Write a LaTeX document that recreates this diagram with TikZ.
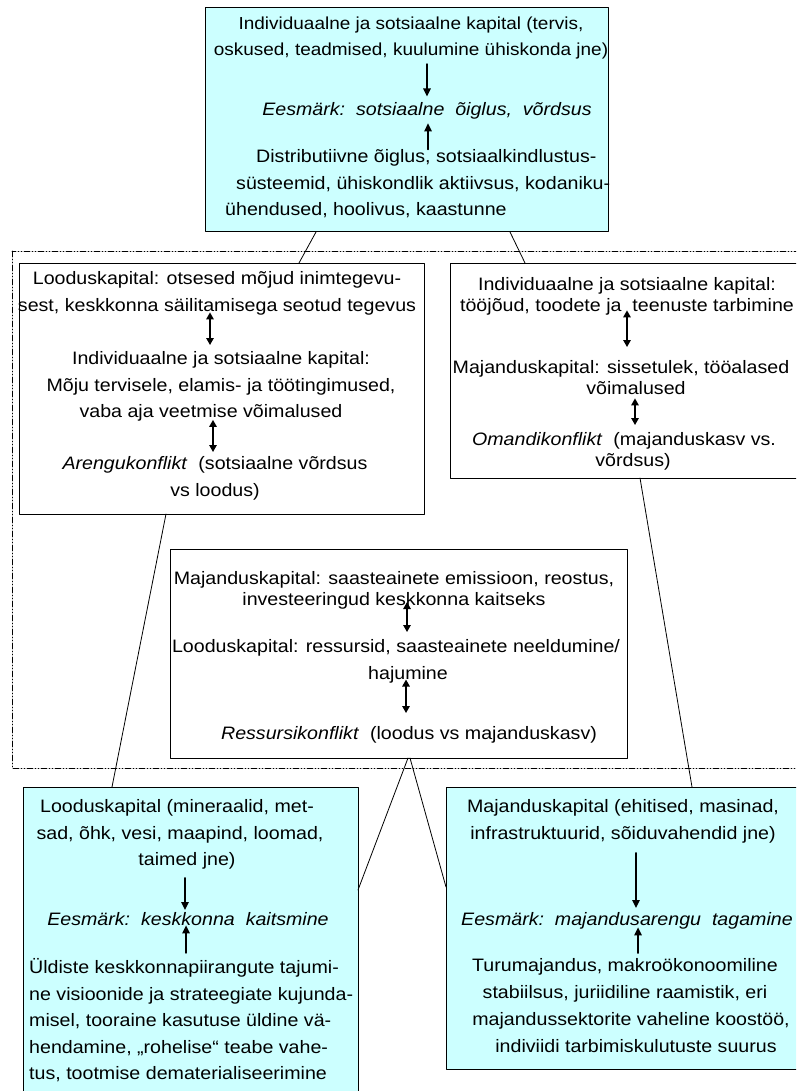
\documentclass[tikz,border=0pt]{standalone}
\usepackage{fontspec}
\setmainfont{Liberation Sans}[FakeStretch=1.09]
\usepackage{xcolor}
\usetikzlibrary{arrows.meta}

\begin{document}
\begin{tikzpicture}[line cap=round,line join=round,x=1pt,y=-1pt,
  box/.style={draw=black,line width=1pt,inner sep=0pt,outer sep=0pt},
  txt/.style={inner sep=0pt,anchor=north,align=center,font={\fontsize{18}{#1}\selectfont},
    execute at begin node=\strut,execute at end node=\strut},
  txt/.default=26.5,
  tip/.style={-{Triangle[length=8pt,width=7.5pt]},line width=1.4pt},
  dbl/.style={{Triangle[length=7pt,width=7.5pt]}-{Triangle[length=7pt,width=7.5pt]},line width=1.4pt},
  link/.style={line width=0.8pt}]
\definecolor{ccffff}{rgb}{0.8,1,1}
\useasboundingbox (0,0) rectangle (796,1091);
\clip (0,0) rectangle (796,1091);
\draw [line width=0.9pt,dash pattern=on 6pt off 2pt on 1pt off 2pt on 1pt off 2pt] (12,251) rectangle (806,768);
% boxes
\node[box,fill=ccffff,minimum width=403pt,minimum height=224pt] (soc) at (406.5,120) {};
\node[box,fill=white,minimum width=405pt,minimum height=251pt] (socnat) at (221.5,388.5) {};
\node[box,fill=white,minimum width=356pt,minimum height=215pt] (socecon) at (628,370.5) {};
\node[box,fill=white,minimum width=457pt,minimum height=209pt] (econnat) at (398.5,653.5) {};
\node[box,fill=ccffff,minimum width=335pt,minimum height=313pt] (nat) at (190.5,943.5) {};
\node[box,fill=ccffff,minimum width=360pt,minimum height=282pt] (econ) at (626,928) {};
% links
\draw[link] (soc.south -| 316,0) -- (socnat.north -| 299,0);
\draw[link] (soc.south -| 510,0) -- (socecon.north -| 525,0);
\draw[link] (socnat.south -| 166,0) -- (nat.north -| 112,0);
\draw[link] (socecon.south -| 640,0) -- (econ.north -| 692,0);
\draw[link] (econnat.south -| 408,0) -- (nat.east |- 0,890);
\draw[link] (econnat.south -| 410,0) -- (econ.west |- 0,887);
% top box
\node[txt,font={\fontsize{17.4}{26.5}\selectfont}] (soc1) at (411,16.5) {Individuaalne ja sotsiaalne kapital (tervis,\\oskused, teadmised, kuulumine ühiskonda jne)};
\node[txt] (soc2) at (427,96.5) {\textit{Eesmärk:\ \ sotsiaalne\ \ õiglus,\ \ võrdsus}};
\node[txt,anchor=north west,align=left] (soc3) at (225,149.5) {\hspace*{31pt}Distributiivne õiglus, sotsiaalkindlustus-\\\hspace*{11pt}süsteemid, ühiskondlik aktiivsus, kodaniku-\\ühendused, hoolivus, kaastunne};
\draw[tip] (soc1.south -| 427,0) -- (soc2.north -| 427,0);
\draw[tip] (soc3.north -| 428,0) -- (soc2.south -| 428,0);
% left box
\node[txt] (socnat1) at (217,271.5) {Looduskapital: otsesed mõjud inimtegevu-\\sest, keskkonna säilitamisega seotud tegevus};
\node[txt] (socnat2) at (221,351.5) {Individuaalne ja sotsiaalne kapital:\\Mõju tervisele, elamis- ja töötingimused,\\vaba aja veetmise võimalused\hspace*{20pt}};
\node[txt] (socnat3) at (215,456.5) {\textit{Arengukonflikt}\ \ (sotsiaalne võrdsus\\vs loodus)};
\draw[dbl,shorten <=-7pt,shorten >=6.5pt] (socnat1.south -| 210,0) -- (socnat2.north -| 210,0);
\draw[dbl,shorten <=-6pt,shorten >=4.5pt] (socnat2.south -| 213,0) -- (socnat3.north -| 213,0);
% right box
\node[txt=21.5] (socecon1) at (627,277) {Individuaalne ja sotsiaalne kapital:\\tööjõud, toodete ja\ \ teenuste tarbimine};
\node[txt=21.5] (socecon2) at (621,360) {Majanduskapital: sissetulek, tööalased\\\hspace*{30pt}võimalused};
\node[txt=21.5] (socecon3) at (624,432) {\textit{Omandikonflikt}\ \ (majanduskasv vs.\\\hspace*{18pt}võrdsus)};
\draw[dbl,shorten <=-8pt,shorten >=13pt] (socecon1.south -| 627,0) -- (socecon2.north -| 627,0);
\draw[dbl,shorten <=-3pt,shorten >=7pt] (socecon2.south -| 635,0) -- (socecon3.north -| 635,0);
% middle box
\node[txt=21] (econnat1) at (394,571.3) {Majanduskapital: saasteainete emissioon, reostus,\\investeeringud keskkonna kaitseks};
\node[txt=27] (econnat2) at (396,639) {Looduskapital: ressursid, saasteainete neeldumine/\\\hspace*{24pt}hajumine};
\node[txt] (econnat3) at (409,720.5) {\textit{Ressursikonflikt}\ \ (loodus vs majanduskasv)};
\draw[dbl,shorten <=-10pt,shorten >=7pt] (econnat1.south -| 407,0) -- (econnat2.north -| 407,0);
\draw[dbl,shorten <=-8pt,shorten >=7.5pt] (econnat2.south -| 406,0) -- (econnat3.north -| 406,0);
% bottom left box
\node[txt] (nat1) at (180,799.5) {Looduskapital (mineraalid, met-\hspace*{6pt}\\sad, õhk, vesi, maapind, loomad,\\\hspace*{14pt}taimed jne)};
\node[txt] (nat2) at (188,906.5) {\textit{Eesmärk:\ \ keskkonna\ \ kaitsmine}};
\node[txt,anchor=north west,align=left] (nat3) at (29,958.5) {Üldiste keskkonnapiirangute tajumi-\\ne visioonide ja strateegiate kujunda-\\misel, tooraine kasutuse üldine vä-\\hendamine, „rohelise“ teabe vahe-\\tus, tootmise dematerialiseerimine};
\draw[tip,shorten <=4pt,shorten >=-3.5pt] (nat1.south -| 185,0) -- (nat2.north -| 185,0);
\draw[tip,shorten <=5.5pt,shorten >=-8pt] (nat3.north -| 186,0) -- (nat2.south -| 186,0);
% bottom right box
\node[txt] (econ1) at (623,799.5) {Majanduskapital (ehitised, masinad,\\infrastruktuurid, sõiduvahendid jne)};
\node[txt] (econ2) at (627,906.5) {\textit{Eesmärk:\ \ majandusarengu\ \ tagamine}};
\node[txt=27] (econ3) at (625,958.1) {Turumajandus, makroökonoomiline\\stabiilsus, juriidiline raamistik, eri\hspace*{8pt}\\\hspace*{12pt}majandussektorite vaheline koostöö,\\\hspace*{22pt}indiviidi tarbimiskulutuste suurus};
\draw[tip,shorten <=5.5pt,shorten >=-1.5pt] (econ1.south -| 636,0) -- (econ2.north -| 636,0);
\draw[tip,shorten <=5pt,shorten >=-6pt] (econ3.north -| 638,0) -- (econ2.south -| 638,0);
\end{tikzpicture}
\end{document}
